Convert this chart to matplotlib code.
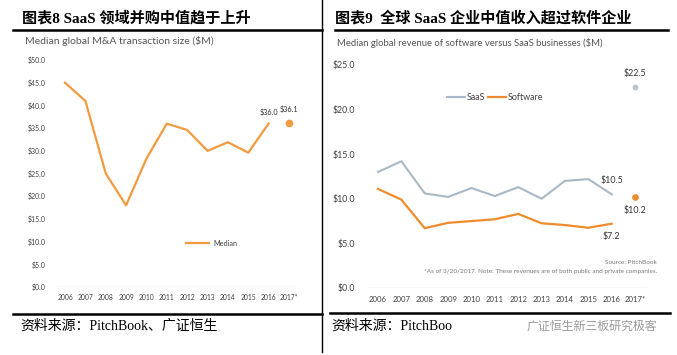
import matplotlib
matplotlib.use("Agg")
import matplotlib.pyplot as plt
from matplotlib.lines import Line2D

# ----------------------------------------------------------------------
# Daten
# ----------------------------------------------------------------------
years = ["2006", "2007", "2008", "2009", "2010", "2011",
         "2012", "2013", "2014", "2015", "2016", "2017*"]

ma_median = [45.0, 41.0, 25.0, 18.0, 28.3, 36.0, 34.6, 30.0, 31.9, 29.6, 36.0]
ma_2017 = 36.1

saas = [13.0, 14.2, 10.6, 10.2, 11.2, 10.3, 11.3, 10.0, 12.0, 12.2, 10.5]
software = [11.1, 9.9, 6.7, 7.3, 7.5, 7.7, 8.3, 7.25, 7.05, 6.75, 7.2]
saas_2017 = 22.5
software_2017 = 10.2

left_yticks = [0, 5, 10, 15, 20, 25, 30, 35, 40, 45, 50]
right_yticks = [0, 5, 10, 15, 20, 25]

title_left = "图表8 SaaS 领域并购中值趋于上升"
title_right = "图表9  全球 SaaS 企业中值收入超过软件企业"
sub_left = "Median global M&A transaction size ($M)"
sub_right = "Median global revenue of software versus SaaS businesses ($M)"
source_left = "资料来源：PitchBook、广证恒生"
source_right = "资料来源：PitchBoo"
watermark = "广证恒生新三板研究极客"

# ----------------------------------------------------------------------
# Stil
# ----------------------------------------------------------------------
W, H = 677, 355
ORANGE = "#F29A3E"
SW_ORANGE = "#EF8C2D"
SAAS_GREY = "#A9B8C6"
TXT = "#404040"
CHART_FONT = "Lato"
CJK_SERIF = ["Liberation Serif", "Noto Sans CJK SC"]

fig = plt.figure(figsize=(W / 100, H / 100), dpi=100)
fig.patch.set_facecolor("white")

# Overlay in Pixelkoordinaten fuer Rahmenlinien und Texte
over = fig.add_axes([0, 0, 1, 1])
over.set_xlim(0, W)
over.set_ylim(H, 0)
over.axis("off")

over.add_line(Line2D([322, 322], [0, 352], color="black", lw=1.0))
over.add_line(Line2D([13, 322], [30, 30], color="black", lw=1.8))
over.add_line(Line2D([335, 668], [30, 30], color="black", lw=1.8))
over.add_line(Line2D([13, 322], [314, 314], color="black", lw=1.8))
over.add_line(Line2D([330, 670], [313, 313], color="black", lw=1.8))

over.text(22, 18, title_left, family=CJK_SERIF, weight="bold", fontsize=10.9,
          va="center", ha="left")
over.text(335, 18, title_right, family=CJK_SERIF, weight="bold", fontsize=10.9,
          va="center", ha="left")
over.text(25, 41, sub_left, family=CHART_FONT, fontsize=7.5, color="#555555",
          va="center", ha="left")
over.text(337, 43, sub_right, family=CHART_FONT, fontsize=6.8, color="#555555",
          va="center", ha="left")
over.text(20, 326, source_left, family=CJK_SERIF, fontsize=10,
          va="center", ha="left")
over.text(331, 326, source_right, family=CJK_SERIF, fontsize=10,
          va="center", ha="left")
over.text(527, 326, watermark, family="Noto Sans CJK SC", fontsize=8.6,
          color="#9A9A9A", va="center", ha="left")

over.text(657, 262, "Source: PitchBook", family=CHART_FONT, fontsize=4.6,
          color="#777777", ha="right", va="center")
over.text(657, 272, "*As of 3/20/2017. Note: These revenues are of both public and private companies.",
          family=CHART_FONT, fontsize=4.6, color="#777777", ha="right", va="center")


def px_axes(x0, x1, y_top, y_bot):
    return fig.add_axes([x0 / W, (H - y_bot) / H, (x1 - x0) / W, (y_bot - y_top) / H])


def style(ax, yticks, fs_y, fs_x):
    for s in ax.spines.values():
        s.set_visible(False)
    ax.axhline(0, color="#DDDDDD", lw=1.0, zorder=0)
    ax.set_yticks(yticks)
    ax.set_yticklabels([f"${v:.1f}" for v in yticks], family=CHART_FONT,
                       fontsize=fs_y, color=TXT)
    ax.set_xticks(range(len(years)))
    ax.set_xticklabels(years, family=CHART_FONT, fontsize=fs_x, color=TXT)
    ax.tick_params(length=0)
    ax.set_facecolor("none")


# ----------------------------------------------------------------------
# Links: M&A
# ----------------------------------------------------------------------
axl = px_axes(56.9, 297.1, 51, 287)
axl.set_xlim(-0.4, 11.4)
axl.set_ylim(0, 52)
style(axl, left_yticks, 5.0, 4.9)
axl.tick_params(axis="y", pad=8)
axl.tick_params(axis="x", pad=5)
xs = list(range(len(ma_median)))
axl.plot(xs, ma_median, color=ORANGE, lw=1.6, label="Median")
axl.plot([11], [ma_2017], "o", color=ORANGE, ms=4.5)
axl.text(10, ma_median[-1] + 1.6, f"${ma_median[-1]:.1f}", family=CHART_FONT,
         fontsize=5.2, color="#333333", ha="center", va="bottom")
axl.text(11, ma_2017 + 2.3, f"${ma_2017:.1f}", family=CHART_FONT,
         fontsize=5.2, color="#333333", ha="center", va="bottom")
axl.legend(loc="center", bbox_to_anchor=(0.646, 0.186), frameon=False,
           prop={"family": CHART_FONT, "size": 5.2}, handlelength=3.2,
           handletextpad=0.6, labelcolor=TXT)

# ----------------------------------------------------------------------
# Rechts: Umsatz SaaS vs. Software
# ----------------------------------------------------------------------
axr = px_axes(367.5, 646.7, 47, 288)
axr.set_xlim(-0.45, 11.5)
axr.set_ylim(0, 27)
style(axr, right_yticks, 6.3, 5.6)
axr.tick_params(axis="y", pad=9)
axr.tick_params(axis="x", pad=6)
axr.plot(xs, saas, color=SAAS_GREY, lw=1.5, label="SaaS")
axr.plot(xs, software, color=SW_ORANGE, lw=1.6, label="Software")
axr.plot([11], [saas_2017], "o", color="#B7C5D3", ms=3.2)
axr.plot([11], [software_2017], "o", color=SW_ORANGE, ms=3.8)
axr.text(10, saas[-1] + 1.0, f"${saas[-1]:.1f}", family=CHART_FONT,
         fontsize=6.4, color="#333333", ha="center", va="bottom")
axr.text(10, software[-1] - 0.9, f"${software[-1]:.1f}", family=CHART_FONT,
         fontsize=6.4, color="#333333", ha="center", va="top")
axr.text(11, saas_2017 + 1.0, f"${saas_2017:.1f}", family=CHART_FONT,
         fontsize=6.4, color="#333333", ha="center", va="bottom")
axr.text(11, software_2017 - 1.0, f"${software_2017:.1f}", family=CHART_FONT,
         fontsize=6.4, color="#333333", ha="center", va="top")
axr.legend(loc="center", bbox_to_anchor=(0.457, 0.789), frameon=False, ncol=2,
           prop={"family": CHART_FONT, "size": 6.4}, handlelength=2.0,
           handletextpad=0.2, columnspacing=0.4, labelcolor=TXT)

fig.savefig("out.png", dpi=100, facecolor="white")
